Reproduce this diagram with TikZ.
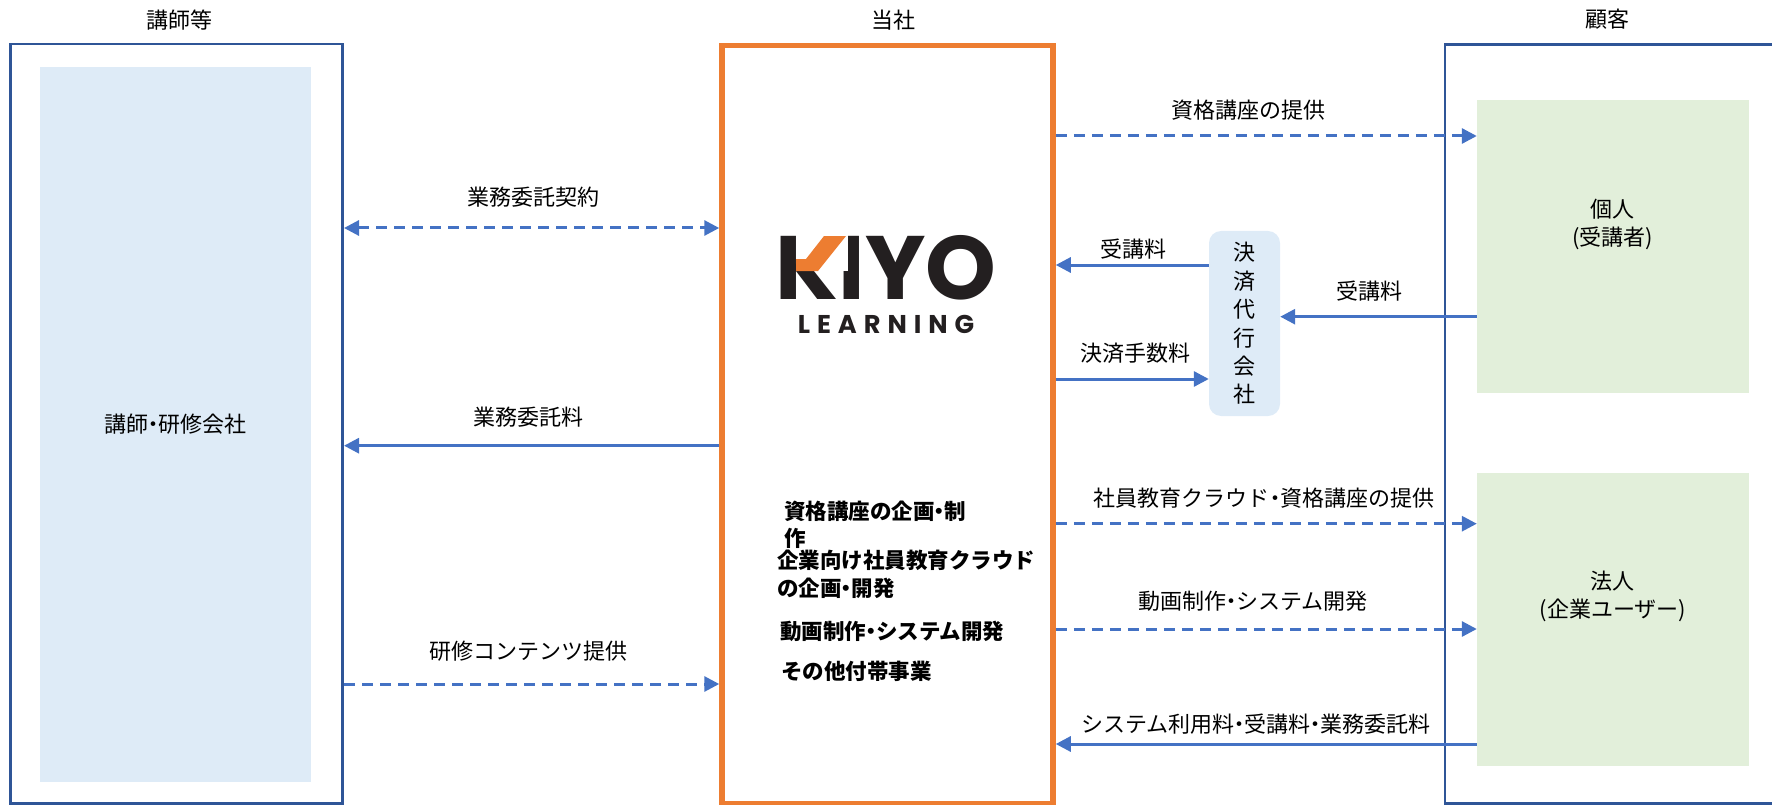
\documentclass[tikz,border=0pt]{standalone}
\usepackage{fontspec}
\usepackage{tikz}
\usetikzlibrary{arrows.meta, positioning}
\newfontfamily\jp{Noto Sans CJK JP}
\newfontfamily\logofont{Poppins}
\newcommand\nakaguro{\hspace{-0.27em}・\hspace{-0.27em}}
\definecolor{frameblue}{HTML}{2F5597}
\definecolor{paleblue}{HTML}{DEEBF7}
\definecolor{palegreen}{HTML}{E2EFDA}
\definecolor{kiyoorange}{HTML}{ED7D31}
\definecolor{flowblue}{HTML}{4472C4}
\definecolor{logoblack}{HTML}{231F20}
\tikzset{
  frame box/.style={draw=frameblue, line width=2.6pt, inner sep=0pt},
  tint box/.style={fill=#1, inner sep=0pt},
  flow/.style={flowblue, line width=3pt},
  dashflow/.style={flow, dash pattern=on 11pt off 7pt},
  lbl/.style={font=\jp\fontsize{22}{28}\selectfont, inner sep=0pt, align=center},
  bizline/.style={font=\jp\bfseries\fontsize{21.5}{27.5}\selectfont, anchor=west,
    align=left, inner sep=0pt},
}
\begin{document}
\begin{tikzpicture}[x=1pt, y=-1pt, >={Triangle[length=15pt,width=15pt]}]
  \useasboundingbox (0,0) rectangle (1772,805);

  % columns
  \node[lbl] (t1) at (179,20) {講師等};
  \node[lbl] (t2) at (893,20) {当社};
  \node[lbl] (t3) at (1607,19) {顧客};

  \node[frame box, minimum width=332pt, minimum height=759pt] (koushi) at (176.7,423.7) {};
  \node[tint box=paleblue, minimum width=270.5pt, minimum height=714.7pt, lbl] (kenshu)
    at (175.5,424.3) {講師\nakaguro 研修会社};

  \node[draw=kiyoorange, line width=5.5pt, inner sep=0pt, minimum width=331pt,
    minimum height=757.8pt] (tousha) at (887.5,424.4) {};

  \node[frame box, minimum width=355pt, minimum height=759pt] (kokyaku) at (1622.5,423.8) {};
  \node[tint box=palegreen, minimum width=271.6pt, minimum height=292.7pt] (kojin)
    at (1612.8,246.3) {};
  \node[tint box=palegreen, minimum width=271.6pt, minimum height=292.4pt] (houjin)
    at (1612.8,619.5) {};
  \node[lbl] at ([yshift=22pt]kojin.center) {個人\\(受講者)};
  \node[lbl] at ([yshift=23pt]houjin.center) {法人\\(企業ユーザー)};

  \node[tint box=paleblue, rounded corners=12pt, minimum width=71pt, minimum height=185pt,
    lbl, font=\jp\fontsize{22}{28.4}\selectfont] (kessai) at (1244.5,323.5)
    {決\\済\\代\\行\\会\\社};

  % logo, the upper arm of the K is orange
  \begin{scope}
    \clip (0,0) -- (1772,0) -- (1772,805) -- (0,805) -- cycle
      (796,228) -- (796,271) -- (848,271) -- (848,228) -- cycle;
    \node[font=\logofont\bfseries\fontsize{25.7}{34}\selectfont, text=logoblack, inner sep=0pt,
      align=center, text depth=0pt, anchor=south] (kiyo) at (886,333.3)
      {{\fontsize{90}{34}\selectfont KIYO}\\\addfontfeature{LetterSpace=27}LEARNING};
  \end{scope}
  \fill[kiyoorange] (796,259) -- (806,259) -- (824,236) -- (846,236) -- (818,271)
    -- (796,271) -- cycle;

  \node[bizline] (biz1) at (784,525) {資格講座の企画\nakaguro 制\\作};
  \node[bizline] (biz2) at (777,574.2) {企業向け社員教育クラウド\\の企画\nakaguro 開発};
  \node[bizline] (biz3) at (780,631.7) {動画制作\nakaguro システム開発};
  \node[bizline] (biz4) at (781,671.7) {その他付帯事業};

  % flows, left side
  \draw[dashflow, <->] (koushi.east |- 0,228) -- (tousha.west |- 0,228);
  \draw[flow, ->] (tousha.west |- 0,445.7) -- (koushi.east |- 0,445.7);
  \draw[dashflow, ->] (koushi.east |- 0,684) -- (tousha.west |- 0,684);
  \node[lbl] at (533,197) {業務委託契約};
  \node[lbl] at (528,416.7) {業務委託料};
  \node[lbl] at (528,650.7) {研修コンテンツ提供};

  % flows, right side
  \draw[dashflow, ->] (tousha.east |- 0,136) -- (kojin.west |- 0,136);
  \draw[flow, ->] (kessai.west |- 0,265) -- (tousha.east |- 0,265);
  \draw[flow, ->] (kojin.west |- 0,316.7) -- (kessai.east |- 0,316.7);
  \draw[flow, ->] (tousha.east |- 0,379) -- (kessai.west |- 0,379);
  \draw[dashflow, ->] (tousha.east |- 0,523.7) -- (houjin.west |- 0,523.7);
  \draw[dashflow, ->] (tousha.east |- 0,629) -- (houjin.west |- 0,629);
  \draw[flow, ->] (houjin.west |- 0,744) -- (tousha.east |- 0,744);
  \node[lbl] at (1248.7,110) {資格講座の提供};
  \node[lbl] at (1133,249) {受講料};
  \node[lbl] at (1369,291) {受講料};
  \node[lbl] at (1135.7,353) {決済手数料};
  \node[lbl] at (1264,498.3) {社員教育クラウド\nakaguro 資格講座の提供};
  \node[lbl] at (1253,601.7) {動画制作\nakaguro システム開発};
  \node[lbl] at (1256,724) {システム利用料\nakaguro 受講料\nakaguro 業務委託料};
\end{tikzpicture}
\end{document}
